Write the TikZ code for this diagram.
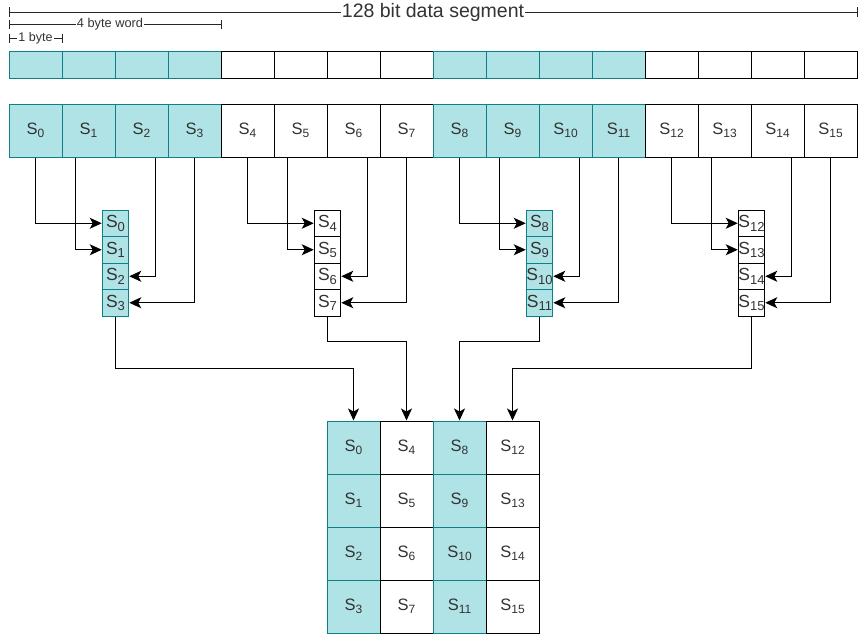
\documentclass[tikz,border=0pt]{standalone}
\usepackage{fontspec}
\setmainfont{Liberation Sans}
\usetikzlibrary{arrows.meta,calc}
\definecolor{tealfill}{HTML}{B0E3E6}
\definecolor{tealline}{HTML}{0E8088}
\definecolor{txt}{HTML}{333333}
\newcommand\Sb[1]{S\raisebox{-3pt}{\fontsize{12}{12}\selectfont #1}}
\newcommand\Sk[1]{S\raisebox{-3.5pt}{\fontsize{13}{13}\selectfont #1}}
\begin{document}
\begin{tikzpicture}[x=1pt,y=-1pt,
  cellbase/.style={draw, line width=1pt, inner sep=0pt, text=txt},
  wide/.style={cellbase, minimum width=53pt, minimum height=27pt},
  big/.style={cellbase, minimum width=53pt, minimum height=53pt, font=\fontsize{16.5}{16.5}\selectfont},
  small/.style={cellbase, minimum width=26.5pt, minimum height=26.5pt, font=\fontsize{17.5}{17.5}\selectfont},
  tl/.style={fill=tealfill, draw=tealline},
  wh/.style={fill=white, draw=black},
  conn/.style={line width=1.2pt, -{Stealth[length=12pt,width=11pt,inset=3pt]}},
  dim/.style={line width=0.8pt, draw=black!85},
  dimlabel/.style={fill=white, inner sep=1pt, text=txt}
]
\useasboundingbox[fill=white] (0,0) rectangle (866,638);

% top empty row and labelled row
\foreach \i in {0,...,15}{
  \pgfmathtruncatemacro\grp{mod(floor(\i/4),2)}
  \pgfmathsetmacro\xx{35.5+53*\i}
  \ifnum\grp=0
    \node[wide,tl] (b\i) at (\xx,64.5) {};
    \node[big,tl] (s\i) at (\xx,130.5) {\Sb{\i}};
  \else
    \node[wide,wh] (b\i) at (\xx,64.5) {};
    \node[big,wh] (s\i) at (\xx,130.5) {\Sb{\i}};
  \fi
}

% stacks and matrix
\foreach \i in {0,...,15}{
  \pgfmathtruncatemacro\g{floor(\i/4)}
  \pgfmathtruncatemacro\r{mod(\i,4)}
  \pgfmathtruncatemacro\grp{mod(\g,2)}
  \pgfmathsetmacro\kx{115.5+212*\g}
  \pgfmathsetmacro\ky{223.25+26.5*\r}
  \pgfmathsetmacro\mx{353.5+53*\g}
  \pgfmathsetmacro\my{447.5+53*\r}
  \ifnum\grp=0
    \node[small,tl] (k\i) at (\kx,\ky) {\Sk{\i}};
    \node[big,tl] (m\i) at (\mx,\my) {\Sb{\i}};
  \else
    \node[small,wh] (k\i) at (\kx,\ky) {\Sk{\i}};
    \node[big,wh] (m\i) at (\mx,\my) {\Sb{\i}};
  \fi
}

% connectors from row to stacks
\foreach \g in {0,...,3}{
  \pgfmathtruncatemacro\a{4*\g}
  \pgfmathtruncatemacro\b{4*\g+1}
  \pgfmathtruncatemacro\c{4*\g+2}
  \pgfmathtruncatemacro\d{4*\g+3}
  \draw[conn] (s\a.south) |- (k\a.west);
  \draw[conn] ([xshift=14pt]s\b.south west) |- (k\b.west);
  \draw[conn] ([xshift=-13pt]s\c.south east) |- (k\c.east);
  \draw[conn] (s\d.south) |- (k\d.east);
}

% connectors from stacks to matrix
\coordinate (hlow) at (0,368.3);
\coordinate (hhigh) at (0,341.7);
\draw[conn] (k3.south) -- (k3.south |- hlow) -| (m0.north);
\draw[conn] (k7.south) -- (k7.south |- hhigh) -| (m4.north);
\draw[conn] (k11.south) -- (k11.south |- hhigh) -| (m8.north);
\draw[conn] (k15.south) -- (k15.south |- hlow) -| (m12.north);

% dimension lines
\coordinate (dAL) at (9,12);   \coordinate (dAR) at (857,12);
\coordinate (dBL) at (9,24);   \coordinate (dBR) at (221,24);
\coordinate (dCL) at (9,38);   \coordinate (dCR) at (62,38);
\draw[dim] (dAL) -- (dAR);
\draw[dim] ([yshift=-5pt]dAL) -- ([yshift=5pt]dAL);
\draw[dim] ([yshift=-5pt]dAR) -- ([yshift=5pt]dAR);
\draw[dim] (dBL) -- (dBR);
\draw[dim] ([yshift=-4.5pt]dBL) -- ([yshift=4.5pt]dBL);
\draw[dim] ([yshift=-4.5pt]dBR) -- ([yshift=4.5pt]dBR);
\draw[dim] (dCL) -- (dCR);
\draw[dim] ([yshift=-4.5pt]dCL) -- ([yshift=4.5pt]dCL);
\draw[dim] ([yshift=-4.5pt]dCR) -- ([yshift=4.5pt]dCR);
\node[dimlabel, font=\fontsize{19.5}{19.5}\selectfont] (lA) at ($(dAL)!0.5!(dAR)$) {128 bit data segment};
\node[dimlabel, font=\fontsize{12.8}{12.8}\selectfont] (lB) at (110,24) {4 byte word};
\node[dimlabel, font=\fontsize{12.5}{12.5}\selectfont] (lC) at ($(dCL)!0.5!(dCR)$) {1 byte};
\end{tikzpicture}
\end{document}
